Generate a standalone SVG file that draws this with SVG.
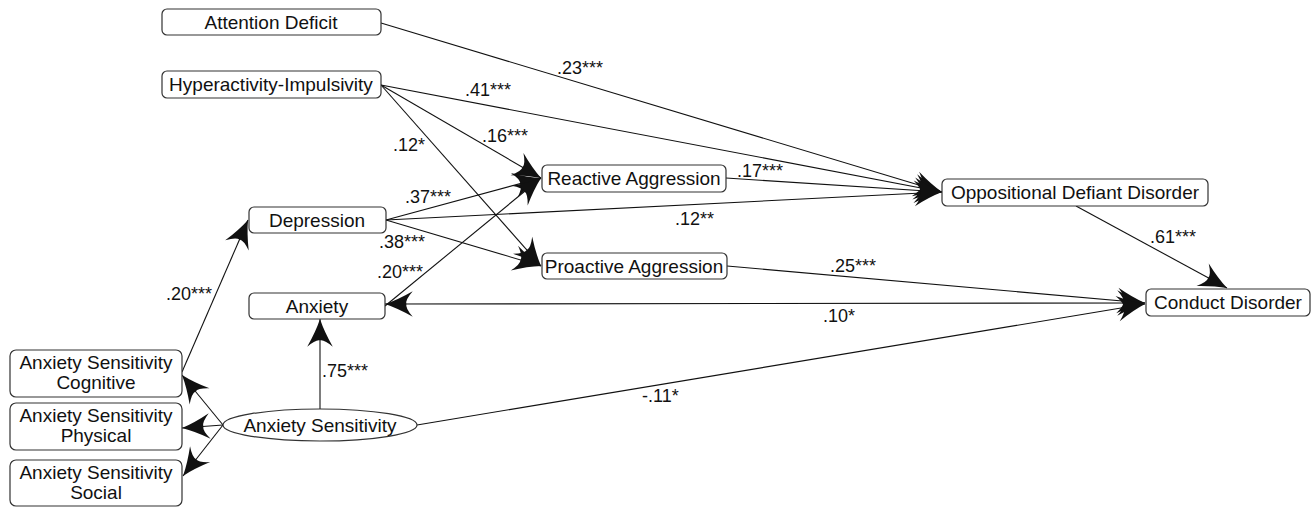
<svg xmlns="http://www.w3.org/2000/svg" width="1316" height="507" viewBox="0 0 1316 507">
<defs>
<style>
.box{fill:#fff;stroke:#333;stroke-width:1.2}
.t{font-family:"Liberation Sans",Arial,sans-serif;font-size:19px;fill:#111;text-anchor:middle}
.lbl{font-family:"Liberation Sans",Arial,sans-serif;font-size:18px;fill:#111}
.c{stroke:#111;stroke-width:1.1;fill:none;marker-end:url(#ah)}
.d{marker-start:url(#ahs)}
</style>
<marker id="ah" markerUnits="userSpaceOnUse" orient="auto" refX="0" refY="0" markerWidth="32" markerHeight="32" viewBox="-28 -14 30 28" overflow="visible">
<path d="M0,0 Q-12,-4 -26,-12 Q-19,-4 -20,0 Q-19,4 -26,12 Q-12,4 0,0 Z" fill="#111"/>
</marker>
<marker id="ahs" markerUnits="userSpaceOnUse" orient="auto-start-reverse" refX="0" refY="0" markerWidth="32" markerHeight="32" viewBox="-28 -14 30 28" overflow="visible">
<path d="M0,0 Q-12,-4 -26,-12 Q-19,-4 -20,0 Q-19,4 -26,12 Q-12,4 0,0 Z" fill="#111"/>
</marker>
</defs>
<rect width="1316" height="507" fill="#fff"/>
<g id="connectors">
<line class="c" x1="381" y1="23" x2="942" y2="192"/>
<line class="c" x1="381" y1="85" x2="942" y2="192"/>
<line class="c" x1="381" y1="85" x2="541" y2="178"/>
<line class="c" x1="381" y1="85" x2="541" y2="266"/>
<line class="c" x1="386" y1="220" x2="541" y2="178"/>
<line class="c" x1="386" y1="220" x2="942" y2="192"/>
<line class="c" x1="386" y1="220" x2="541" y2="266"/>
<line class="c" x1="385" y1="306" x2="541" y2="178"/>
<line class="c" x1="726" y1="178" x2="942" y2="192"/>
<line class="c" x1="727" y1="266" x2="1145" y2="303"/>
<line class="c d" x1="385" y1="304" x2="1145" y2="303"/>
<line class="c" x1="417" y1="425" x2="1145" y2="304"/>
<line class="c" x1="1076" y1="206" x2="1227" y2="288"/>
<line class="c" x1="320" y1="409" x2="320" y2="319"/>
<line class="c" x1="182" y1="372" x2="248" y2="220"/>
<line class="c" x1="223" y1="425" x2="182" y2="375"/>
<line class="c" x1="223" y1="425" x2="182" y2="428"/>
<line class="c" x1="223" y1="425" x2="183" y2="476"/>
</g>
<g id="labels">
<text class="lbl" x="557" y="74">.23***</text>
<text class="lbl" x="465" y="96">.41***</text>
<text class="lbl" x="482" y="142">.16***</text>
<text class="lbl" x="393" y="151">.12*</text>
<text class="lbl" x="405" y="203">.37***</text>
<text class="lbl" x="379" y="248">.38***</text>
<text class="lbl" x="377" y="278">.20***</text>
<text class="lbl" x="675" y="225">.12**</text>
<text class="lbl" x="737" y="177">.17***</text>
<text class="lbl" x="1150" y="243">.61***</text>
<text class="lbl" x="830" y="272">.25***</text>
<text class="lbl" x="823" y="322">.10*</text>
<text class="lbl" x="642" y="402">-.11*</text>
<text class="lbl" x="322" y="377">.75***</text>
<text class="lbl" x="166" y="300">.20***</text>
</g>
<g id="attention-deficit"><rect class="box" x="162" y="9" width="219" height="26" rx="5"/><text class="t" x="271" y="29">Attention Deficit</text></g>
<g id="hyperactivity"><rect class="box" x="162" y="71" width="219" height="27" rx="5"/><text class="t" x="271" y="91">Hyperactivity-Impulsivity</text></g>
<g id="depression"><rect class="box" x="249" y="207" width="137" height="26" rx="5"/><text class="t" x="317" y="227">Depression</text></g>
<g id="anxiety"><rect class="box" x="249" y="293" width="136" height="26" rx="5"/><text class="t" x="317" y="313">Anxiety</text></g>
<g id="reactive"><rect class="box" x="542" y="165" width="184" height="27" rx="5"/><text class="t" x="634" y="185">Reactive Aggression</text></g>
<g id="proactive"><rect class="box" x="542" y="253" width="185" height="26" rx="5"/><text class="t" x="634" y="273">Proactive Aggression</text></g>
<g id="odd"><rect class="box" x="942" y="179" width="266" height="27" rx="5"/><text class="t" x="1075" y="199">Oppositional Defiant Disorder</text></g>
<g id="conduct"><rect class="box" x="1146" y="289" width="164" height="27" rx="5"/><text class="t" x="1228" y="309">Conduct Disorder</text></g>
<g id="as-cognitive"><rect class="box" x="10" y="350" width="172" height="47" rx="6"/><text class="t" x="96" y="369">Anxiety Sensitivity</text><text class="t" x="96" y="389">Cognitive</text></g>
<g id="as-physical"><rect class="box" x="10" y="403" width="172" height="47" rx="6"/><text class="t" x="96" y="422">Anxiety Sensitivity</text><text class="t" x="96" y="442">Physical</text></g>
<g id="as-social"><rect class="box" x="10" y="460" width="172" height="46" rx="6"/><text class="t" x="96" y="479">Anxiety Sensitivity</text><text class="t" x="96" y="499">Social</text></g>
<g id="anxiety-sensitivity"><ellipse class="box" cx="320" cy="425" rx="97" ry="16"/><text class="t" x="320" y="432">Anxiety Sensitivity</text></g>
</svg>
